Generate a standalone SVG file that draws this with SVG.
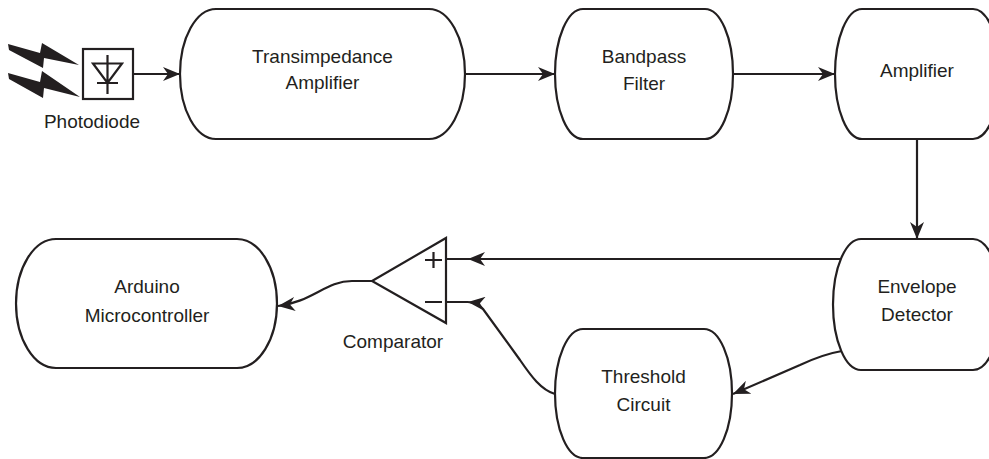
<svg xmlns="http://www.w3.org/2000/svg" width="989" height="459" viewBox="0 0 989 459">
<style>
.box{fill:#fff;stroke:#231f20;stroke-width:2.2}
.ln{fill:none;stroke:#231f20;stroke-width:2.2}
.t{font-family:"Liberation Sans",Arial,Helvetica,sans-serif;font-size:19px;fill:#231f20;text-anchor:middle}
</style>
<defs>
<marker id="ah" viewBox="0 0 18 14" refX="17" refY="7" markerWidth="18" markerHeight="14" orient="auto" markerUnits="userSpaceOnUse">
<path d="M0,0 L17,7 L0,14 L5,7 Z" fill="#231f20"/>
</marker>
</defs>
<rect width="989" height="459" fill="#fff"/>
<g id="connectors">
<path class="ln" d="M133,74 H180" marker-end="url(#ah)"/>
<path class="ln" d="M465,74 H555" marker-end="url(#ah)"/>
<path class="ln" d="M733,74 H835" marker-end="url(#ah)"/>
<path class="ln" d="M917,139 V239" marker-end="url(#ah)"/>
<path class="ln" d="M842,259 H468" marker-end="url(#ah)"/>
<path class="ln" d="M555,394 C541,390 531,376 520,360 L483,309 Q478,303 468,302" marker-end="url(#ah)"/>
<path class="ln" d="M842,351 C830,353 815,358 800,365 L733,394" marker-end="url(#ah)"/>
<path class="ln" d="M372,281 H352 C326,281 312,302 278,306" marker-end="url(#ah)"/>
</g>
<g id="photodiode">
<path d="M8,44 L40,53 L42,43 L79,65 L44,58 L43,68 L9,50 Z" fill="#231f20"/>
<path d="M8,73 L40,82 L42,71 L80,97 L44,88 L43,98 L9,79 Z" fill="#231f20"/>
<rect x="83" y="49" width="50" height="50" class="box"/>
<path class="ln" d="M107.5,55 V94 M93,63.5 H122 L107.5,83 Z M97,83 H118" stroke-width="1.3"/>
<text class="t" x="92" y="128">Photodiode</text>
</g>
<g id="tia">
<path class="box" d="M216,9 H429 A36,65 0 0 1 429,139 H216 A36,65 0 0 1 216,9 Z"/>
<text class="t" x="322.5" y="63">Transimpedance</text>
<text class="t" x="322.5" y="89">Amplifier</text>
</g>
<g id="bandpass">
<path class="box" d="M583,9 H705 A28,65 0 0 1 705,139 H583 A28,65 0 0 1 583,9 Z"/>
<text class="t" x="644" y="63">Bandpass</text>
<text class="t" x="644" y="90">Filter</text>
</g>
<g id="amplifier">
<path class="box" d="M862,9 H973 A27,65 0 0 1 973,139 H862 A27,65 0 0 1 862,9 Z"/>
<text class="t" x="917" y="77">Amplifier</text>
</g>
<g id="envelope">
<path class="box" d="M861,239 H973 A28,65.5 0 0 1 973,370 H861 A28,65.5 0 0 1 861,239 Z"/>
<text class="t" x="917" y="293">Envelope</text>
<text class="t" x="917" y="321">Detector</text>
</g>
<g id="threshold">
<path class="box" d="M583,329 H704 A28,64.5 0 0 1 704,458 H583 A28,64.5 0 0 1 583,329 Z"/>
<text class="t" x="643.5" y="383">Threshold</text>
<text class="t" x="643.5" y="411">Circuit</text>
</g>
<g id="arduino">
<path class="box" d="M56,239 H237 A40,64.5 0 0 1 237,368 H56 A40,64.5 0 0 1 56,239 Z"/>
<text class="t" x="147" y="293">Arduino</text>
<text class="t" x="147" y="322">Microcontroller</text>
</g>
<g id="comparator">
<path class="ln" d="M446,259 H468 M446,302 H468"/>
<polygon class="box" points="446,238 446,323 372,281"/>
<path class="ln" d="M425,260 H442 M433.5,252 V268 M425,302 H442"/>
<text class="t" x="393" y="348">Comparator</text>
</g>
</svg>
